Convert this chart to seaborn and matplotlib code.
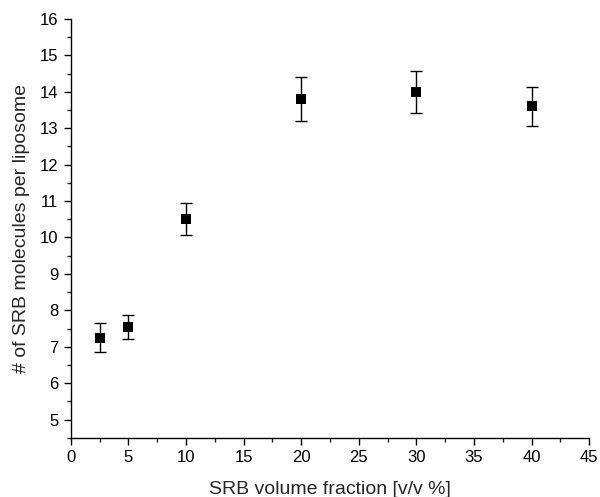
import numpy as np
import pandas as pd
import matplotlib
matplotlib.use("Agg")
import matplotlib.pyplot as plt
from matplotlib.ticker import MultipleLocator
import seaborn as sns

# datos
fraccion = [2.5, 5, 10, 20, 30, 40]
moleculas = [7.25, 7.55, 10.5, 13.8, 14.0, 13.6]
error = [0.40, 0.33, 0.44, 0.61, 0.58, 0.53]

df = pd.DataFrame({"fraccion": fraccion, "moleculas": moleculas, "error": error})

sns.set_style("ticks")
plt.rcParams["font.family"] = ["Liberation Sans", "DejaVu Sans"]

fig = plt.figure(figsize=(6.0, 4.97), dpi=100)
ax = fig.add_axes([0.118, 0.119, 0.864, 0.843])

ax.errorbar(df["fraccion"], df["moleculas"], yerr=df["error"], fmt="none",
            ecolor="black", elinewidth=1, capsize=4, capthick=1, zorder=2)
sns.scatterplot(data=df, x="fraccion", y="moleculas", marker="s", s=60,
                color="black", edgecolor="black", linewidth=0, ax=ax, zorder=3)

ax.set_xlim(0, 45)
ax.set_ylim(4.5, 16)
ax.xaxis.set_major_locator(MultipleLocator(5))
ax.xaxis.set_minor_locator(MultipleLocator(2.5))
ax.yaxis.set_minor_locator(MultipleLocator(0.5))
ax.set_yticks(np.arange(5, 17, 1))
ax.tick_params(which="major", direction="out", length=5, width=1, labelsize=12, colors="black", pad=4)
ax.tick_params(which="minor", direction="out", length=3, width=1)
sns.despine(ax=ax)
for s in ["left", "bottom"]:
    ax.spines[s].set_linewidth(1)
    ax.spines[s].set_color("black")

ax.set_xlabel("SRB volume fraction [v/v %]", fontsize=14, labelpad=11)
ax.set_ylabel("# of SRB molecules per liposome", fontsize=14, labelpad=7)

fig.savefig("out.png", dpi=100)
